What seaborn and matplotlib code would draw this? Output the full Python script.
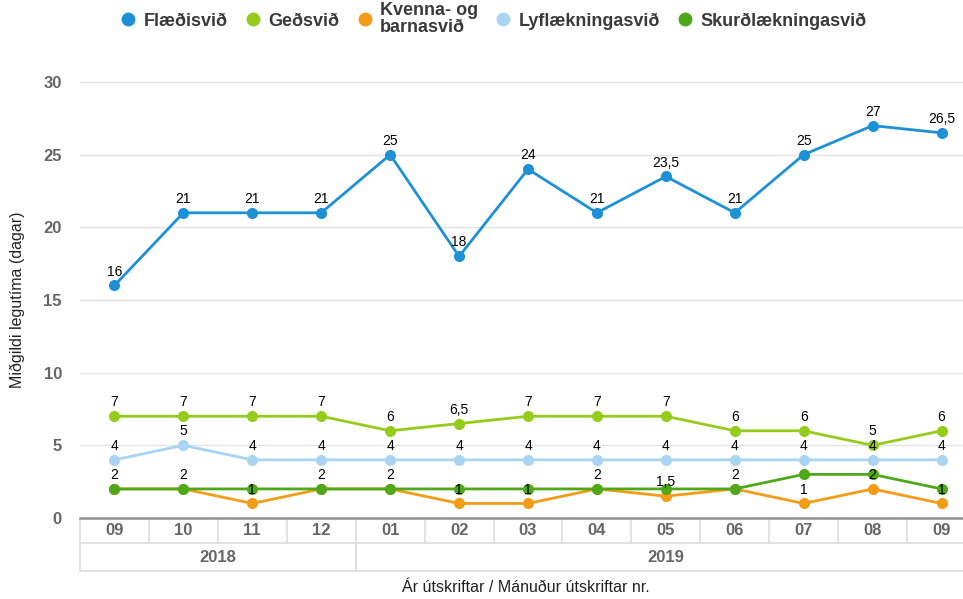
import numpy as np
import pandas as pd
import matplotlib
matplotlib.use("Agg")
import matplotlib.pyplot as plt
from matplotlib.lines import Line2D
import seaborn as sns


## data ##
months = ['09', '10', '11', '12', '01', '02', '03', '04', '05', '06', '07', '08', '09']
years = ['2018', '2019']
year_span = [(0, 3), (4, 12)]  # first and last month index of each year

series_names = ['Flæðisvið', 'Geðsvið', 'Kvenna- og\nbarnasvið', 'Lyflækningasvið', 'Skurðlækningasvið']
flaedi = [16, 21, 21, 21, 25, 18, 24, 21, 23.5, 21, 25, 27, 26.5]
gedsvid = [7, 7, 7, 7, 6, 6.5, 7, 7, 7, 6, 6, 5, 6]
kvenna = [2, 2, 1, 2, 2, 1, 1, 2, 1.5, 2, 1, 2, 1]
lyf = [4, 5, 4, 4, 4, 4, 4, 4, 4, 4, 4, 4, 4]
skurd = [2, 2, 2, 2, 2, 2, 2, 2, 2, 2, 3, 3, 2]
series_values = [flaedi, gedsvid, kvenna, lyf, skurd]

colors = ['#1e90d6', '#95cc1c', '#f39c17', '#a9d4f2', '#4fa81a']
show_labels = [True, True, True, True, False]  # skurð labels are hidden (overlap)

y_ticks = [0, 5, 10, 15, 20, 25, 30]

## long format for seaborn
rows = []
for name, vals in zip(series_names, series_values):
    for i, v in enumerate(vals):
        rows.append({'idx': i, 'value': v, 'svid': name})
df = pd.DataFrame(rows)

sns.set_style("white")
plt.rcParams['font.family'] = ['Liberation Sans', 'DejaVu Sans']

W, H = 963, 599
fig = plt.figure(figsize=(W / 100, H / 100), dpi=100)
# plot area in pixels: left 80, right 976 (cropped), y=30 at 82, y=0 at 518
ax = fig.add_axes([80 / W, 1 - 518 / H, 896 / W, (518 - 82) / H])

sns.lineplot(data=df, x='idx', y='value', hue='svid', hue_order=series_names,
             palette=colors, marker='o', markersize=8, markeredgewidth=0,
             linewidth=2, legend=False, ax=ax, clip_on=False)

ax.set_xlim(-0.5, len(months) - 0.5)
ax.set_ylim(0, 30)

# data labels
for vals, show in zip(series_values, show_labels):
    if not show:
        continue
    for i, v in enumerate(vals):
        txt = ('%g' % v).replace('.', ',')
        ax.annotate(txt, (i, v), xytext=(0, 5), textcoords='offset points',
                    ha='center', va='bottom', fontsize=10, color='black', zorder=10)

# grid + y axis
ax.set_yticks(y_ticks)
ax.yaxis.grid(True, color='#e3e3e3', linewidth=1)
ax.set_axisbelow(True)
for s in ['top', 'right', 'left']:
    ax.spines[s].set_visible(False)
ax.spines['bottom'].set_color('#909090')
ax.spines['bottom'].set_linewidth(1.8)
ax.tick_params(axis='y', length=6, width=1, color='#999999', pad=7,
               labelsize=12, labelcolor='#666666')
for lab in ax.get_yticklabels():
    lab.set_fontweight('bold')
ax.set_xticks([])
ax.set_xlabel('')
ax.set_ylabel('Miðgildi legutíma (dagar)', fontsize=11.5, color='#222222', labelpad=13)

# category table below the axis
trans = ax.get_xaxis_transform()
row1 = -25 / 436
row2 = -53 / 436
grid_c = '#dddddd'
n = len(months)
ax.plot([-0.5, n - 0.5], [row1, row1], transform=trans, color=grid_c, lw=1.2, clip_on=False)
ax.plot([-0.5, n - 0.5], [row2, row2], transform=trans, color=grid_c, lw=1.2, clip_on=False)
for k in range(n + 1):
    ax.plot([k - 0.5, k - 0.5], [0, row1], transform=trans, color=grid_c, lw=1.2, clip_on=False)
for i, m in enumerate(months):
    ax.text(i, row1 / 2, m, transform=trans, ha='center', va='center',
            fontsize=12, fontweight='bold', color='#666666')
for yr, (a, b) in zip(years, year_span):
    ax.plot([a - 0.5, a - 0.5], [row1, row2], transform=trans, color=grid_c, lw=1.2, clip_on=False)
    ax.plot([b + 0.5, b + 0.5], [row1, row2], transform=trans, color=grid_c, lw=1.2, clip_on=False)
    ax.text((a + b) / 2, (row1 + row2) / 2, yr, transform=trans, ha='center', va='center',
            fontsize=12, fontweight='bold', color='#666666')

fig.text(526 / W, 1 - 588 / H, 'Ár útskriftar / Mánuður útskriftar nr.',
         ha='center', va='center', fontsize=11.5, color='#222222')

# legend
handles = [Line2D([], [], marker='o', linestyle='none', markersize=10,
                  markeredgewidth=0, color=c) for c in colors]
leg = fig.legend(handles, series_names, loc='center', bbox_to_anchor=(0.512, 1 - 19 / H),
                 ncol=5, frameon=False, handletextpad=0.35, columnspacing=0.9,
                 handlelength=1.0, fontsize=13)
for t in leg.get_texts():
    t.set_fontweight('bold')
    t.set_color('#3a3a3a')
    t.set_linespacing(1.05)

fig.savefig('out.png', dpi=100)
